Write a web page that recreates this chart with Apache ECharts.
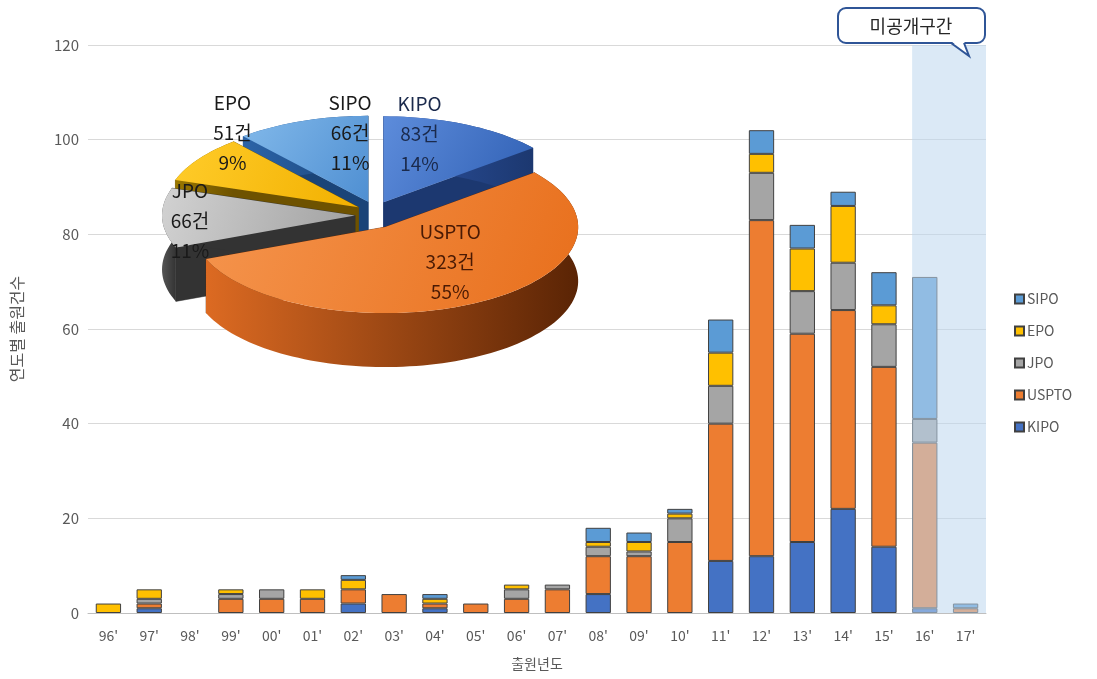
<!DOCTYPE html>
<html>
<head>
<meta charset="utf-8">
<script src="https://cdn.jsdelivr.net/npm/echarts@6/dist/echarts.min.js"></script>
<style>
html, body { margin: 0; padding: 0; background: #fff; }
#main { width: 1097px; height: 679px; }
</style>
</head>
<body>
<div id="main"></div>
<script>
// 출원년도
var years = ["96'", "97'", "98'", "99'", "00'", "01'", "02'", "03'", "04'", "05'", "06'",
             "07'", "08'", "09'", "10'", "11'", "12'", "13'", "14'", "15'", "16'", "17'"];

// 연도별 출원건수 (청별)
var kipo  = [0, 1, 0, 0, 0, 0, 2, 0, 1, 0, 0, 0, 4, 0, 0, 11, 12, 15, 22, 14, 1, 0];
var uspto = [0, 1, 0, 3, 3, 3, 3, 4, 1, 2, 3, 5, 8, 12, 15, 29, 71, 44, 42, 38, 35, 1];
var jpo   = [0, 1, 0, 1, 2, 0, 0, 0, 0, 0, 2, 1, 2, 1, 5, 8, 10, 9, 10, 9, 5, 0];
var epo   = [2, 2, 0, 1, 0, 2, 2, 0, 1, 0, 1, 0, 1, 2, 1, 7, 4, 9, 12, 4, 0, 0];
var sipo  = [0, 0, 0, 0, 0, 0, 1, 0, 1, 0, 0, 0, 3, 2, 1, 7, 5, 5, 3, 7, 30, 1];

// 파이 (청별 합계)
var pieNames  = ['KIPO', 'USPTO', 'JPO', 'EPO', 'SIPO'];
var pieValues = [83, 323, 66, 51, 66];

// 미공개구간 시작
var hiddenFrom = "16'";

var colors = { KIPO: '#4472C4', USPTO: '#ED7D31', JPO: '#A5A5A5', EPO: '#FFC000', SIPO: '#5B9BD5' };
var FONT = '"Noto Sans CJK KR", "Noto Sans", sans-serif';

var chart = echarts.init(document.getElementById('main'));

function barSeries(name, values) {
    return {
        name: name,
        type: 'bar',
        stack: 'total',
        barWidth: '62%',
        data: values.map(function (v) { return v === 0 ? '-' : v; }),
        itemStyle: { color: colors[name], borderColor: '#404040', borderWidth: 1 }
    };
}

// 3D 느낌 파이 계산
var pieTotal = pieValues.reduce(function (a, b) { return a + b; }, 0);
var pieStart = [];
(function () {
    var acc = 0;
    pieValues.forEach(function (v) { pieStart.push(acc / pieTotal * 360); acc += v; });
})();
var PIE = { cx: 375, cy: 215, rx: 193, ry: 86, depth: 54, explode: 20 };
var pieTop = {
    KIPO: ['#5d8cdb', '#2f5fb3'], USPTO: ['#f5954e', '#e86f1c'], JPO: ['#d2d2d2', '#a0a0a0'],
    EPO: ['#ffcc2a', '#f2b000'], SIPO: ['#82b9ea', '#4f8fd2']
};
var pieSide = {
    KIPO: ['#2d52a0', '#1c3870'], USPTO: ['#dc6a22', '#5a2405'], JPO: ['#555555', '#333333'],
    EPO: ['#9a7800', '#6e5200'], SIPO: ['#2c64a8', '#1a4478']
};
var pieText = { KIPO: '#1b2a4c', USPTO: '#4a1a04', JPO: '#1a1a1a', EPO: '#1a1a1a', SIPO: '#1a1a1a' };
// 라벨 위치: 조각 꼭짓점 기준 이동량
var pieLabelShift = { KIPO: [36, -69], USPTO: [65, 35], JPO: [-165, 5], EPO: [-126, -74], SIPO: [-18, -69] };

function midAngle(i) {
    return (pieStart[i] + pieValues[i] / pieTotal * 180) * Math.PI / 180;
}
// 뒤쪽 조각부터 그림
var pieOrder = pieValues.map(function (v, i) { return i; })
    .sort(function (a, b) { return Math.cos(midAngle(b)) - Math.cos(midAngle(a)); });

function renderPie(params, api) {
    var i = api.value(0);
    var name = pieNames[i];
    var a0 = pieStart[i];
    var a1 = a0 + pieValues[i] / pieTotal * 360;
    var mid = midAngle(i);
    var ox = PIE.explode * Math.sin(mid);
    var oy = -PIE.explode * Math.cos(mid) * 0.7;
    function pt(deg, dz) {
        var r = deg * Math.PI / 180;
        return [PIE.cx + ox + PIE.rx * Math.sin(r), PIE.cy + oy - PIE.ry * Math.cos(r) + (dz || 0)];
    }
    var apex = [PIE.cx + ox, PIE.cy + oy];
    var apexLow = [apex[0], apex[1] + PIE.depth];
    var arc = [], arcLow = [];
    for (var d = a0; d < a1; d += 2) {
        arc.push(pt(d));
        arcLow.push(pt(d, PIE.depth));
    }
    arc.push(pt(a1));
    arcLow.push(pt(a1, PIE.depth));
    var sideFill = new echarts.graphic.LinearGradient(0, 0, 1, 0, [
        { offset: 0, color: pieSide[name][0] }, { offset: 1, color: pieSide[name][1] }]);
    var topFill = new echarts.graphic.LinearGradient(0, 0, 1, 1, [
        { offset: 0, color: pieTop[name][0] }, { offset: 1, color: pieTop[name][1] }]);
    var pct = Math.round(pieValues[i] / pieTotal * 100);
    var shift = pieLabelShift[name];
    return {
        type: 'group',
        children: [
            { type: 'polygon', shape: { points: [apex, arc[0], arcLow[0], apexLow] },
              style: { fill: pieSide[name][1], stroke: pieSide[name][1], lineWidth: 0.5 } },
            { type: 'polygon', shape: { points: [apex, arc[arc.length - 1], arcLow[arcLow.length - 1], apexLow] },
              style: { fill: pieSide[name][1], stroke: pieSide[name][1], lineWidth: 0.5 } },
            { type: 'polygon', shape: { points: arc.concat(arcLow.slice().reverse()) },
              style: { fill: sideFill } },
            { type: 'polygon', shape: { points: [apex].concat(arc) },
              style: { fill: topFill } },
            { type: 'text', x: apex[0] + shift[0], y: apex[1] + shift[1],
              style: { text: name + '\n' + pieValues[i] + '건\n' + pct + '%', fill: pieText[name],
                       font: '19px ' + FONT, align: 'center', verticalAlign: 'middle', lineHeight: 30 } }
        ]
    };
}

chart.setOption({
    animation: false,
    textStyle: { fontFamily: FONT },
    grid: { left: 88, right: 111, top: 45, bottom: 66 },
    legend: {
        data: ['SIPO', 'EPO', 'JPO', 'USPTO', 'KIPO'],
        orient: 'vertical',
        left: 1009,
        top: 287,
        icon: 'rect',
        itemWidth: 9,
        itemHeight: 9,
        itemGap: 18,
        textStyle: { fontSize: 14, color: '#595959', padding: [0, 0, 0, -2] }
    },
    xAxis: {
        type: 'category',
        data: years,
        name: '출원년도',
        nameLocation: 'middle',
        nameGap: 44,
        nameTextStyle: { fontSize: 14, color: '#595959' },
        axisLine: { lineStyle: { color: '#bfbfbf' } },
        axisTick: { length: 5, lineStyle: { color: '#bfbfbf' } },
        axisLabel: { fontSize: 14, color: '#595959', margin: 16 }
    },
    yAxis: {
        type: 'value',
        min: 0,
        max: 120,
        interval: 20,
        name: '연도별 출원건수',
        nameLocation: 'middle',
        nameRotate: 90,
        nameGap: 63,
        nameTextStyle: { fontSize: 16, color: '#595959' },
        axisLabel: { fontSize: 15, color: '#595959', margin: 9 },
        splitLine: { lineStyle: { color: '#d9d9d9' } }
    },
    series: [
        barSeries('KIPO', kipo),
        barSeries('USPTO', uspto),
        barSeries('JPO', jpo),
        barSeries('EPO', epo),
        barSeries('SIPO', sipo),
        {
            // 미공개구간 음영
            type: 'custom',
            silent: true,
            z: 5,
            data: [[years.indexOf(hiddenFrom)]],
            encode: { x: 0 },
            renderItem: function (params, api) {
                var cs = params.coordSys;
                var p = api.coord([api.value(0), 0]);
                var w = api.size([1, 0])[0] * 0.62;
                var x0 = p[0] - w / 2;
                return {
                    type: 'rect',
                    shape: { x: x0, y: cs.y, width: cs.x + cs.width - x0, height: cs.height },
                    style: { fill: 'rgba(189,215,238,0.55)' }
                };
            }
        },
        {
            type: 'custom',
            coordinateSystem: 'none',
            silent: true,
            z: 10,
            data: pieOrder.map(function (i) { return [i, pieValues[i]]; }),
            renderItem: renderPie
        }
    ],
    graphic: [
        { type: 'rect', z: 20, shape: { x: 838, y: 8, width: 147, height: 35, r: 8 },
          style: { fill: '#fff', stroke: '#2F5597', lineWidth: 2 } },
        { type: 'polygon', z: 21, shape: { points: [[951, 41], [969, 56], [964, 41]] },
          style: { fill: '#fff' } },
        { type: 'polyline', z: 22, shape: { points: [[951, 43], [969, 56], [964, 43]] },
          style: { stroke: '#2F5597', lineWidth: 2, fill: null } },
        { type: 'text', z: 23, x: 911, y: 26,
          style: { text: '미공개구간', font: '18px ' + FONT, fill: '#262626', align: 'center', verticalAlign: 'middle' } }
    ]
});
</script>
</body>
</html>
